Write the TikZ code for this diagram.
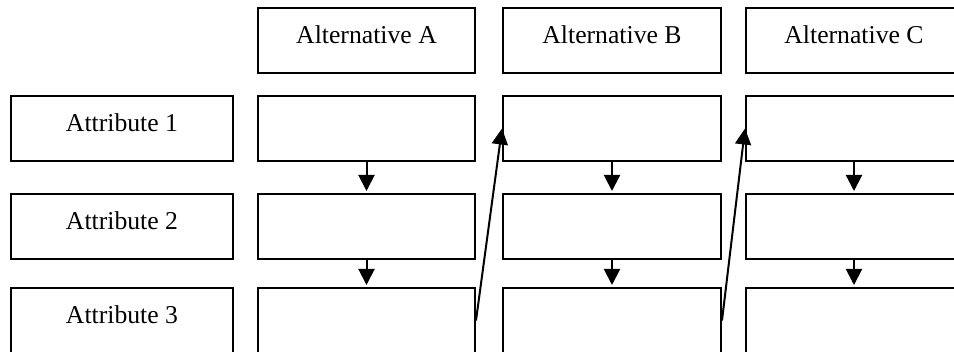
\documentclass[tikz,border=0pt]{standalone}
\usepackage{fontspec}
\setmainfont{Liberation Serif}
\usetikzlibrary{arrows.meta}
\begin{document}
\begin{tikzpicture}[x=0.5pt,y=-0.5pt,
  cell/.style={draw,line width=1pt,rectangle,inner sep=0pt,minimum height=32.5pt,
    font=\fontsize{12.85}{15}\selectfont,text height=5.5pt,text depth=2.5pt},
  attr/.style={cell,minimum width=111pt},
  colA/.style={cell,minimum width=108.5pt},
  colB/.style={cell,minimum width=109pt},
  colC/.style={cell,minimum width=108pt},
  link/.style={line width=1pt,-{Triangle[length=8pt,width=8pt]},shorten >=1pt}]
\useasboundingbox (0,0) rectangle (954,352);
\clip (0,0) rectangle (954,352);
% headers
\node[colA] (hA) at (366.5,40.5) {Alternative A};
\node[colB] (hB) at (612,40.5) {Alternative B};
\node[colC] (hC) at (854,40.5) {Alternative C};
% attributes
\node[attr] (t1) at (122,128.5) {Attribute 1};
\node[attr] (t2) at (122,226.5) {Attribute 2};
\node[attr] (t3) at (122,320.5) {Attribute 3};
% cells
\node[colA] (a1) at (366.5,128.5) {};
\node[colA] (a2) at (366.5,226.5) {};
\node[colA] (a3) at (366.5,320.5) {};
\node[colB] (b1) at (612,128.5) {};
\node[colB] (b2) at (612,226.5) {};
\node[colB] (b3) at (612,320.5) {};
\node[colC] (c1) at (854,128.5) {};
\node[colC] (c2) at (854,226.5) {};
\node[colC] (c3) at (854,320.5) {};
% arrows
\draw[link] (a1) -- (a2);
\draw[link] (a2) -- (a3);
\draw[link] (b1) -- (b2);
\draw[link] (b2) -- (b3);
\draw[link] (c1) -- (c2);
\draw[link] (c2) -- (c3);
\draw[link,shorten >=0pt] (a3.east) -- (b1.west);
\draw[link,shorten >=0pt] (b3.east) -- (c1.west);
\end{tikzpicture}
\end{document}
